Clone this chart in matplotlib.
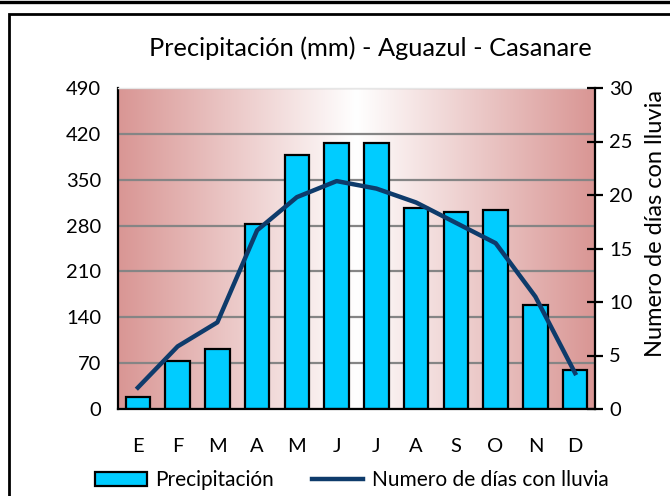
import numpy as np
import matplotlib
matplotlib.use("Agg")
import matplotlib.pyplot as plt
from matplotlib.colors import LinearSegmentedColormap
from matplotlib.patches import Rectangle
from matplotlib.lines import Line2D

plt.rcParams['font.family'] = ['Lato', 'DejaVu Sans']

# monthly data
meses = ['E', 'F', 'M', 'A', 'M', 'J', 'J', 'A', 'S', 'O', 'N', 'D']
precipitacion = [18, 74, 92, 283, 388, 406, 406, 307, 300, 304, 159, 60]
dias_lluvia = [2.0, 5.85, 8.1, 16.7, 19.8, 21.3, 20.6, 19.3, 17.4, 15.5, 10.5, 3.35]
ticks_mm = [0, 70, 140, 210, 280, 350, 420, 490]
ticks_dias = [0, 5, 10, 15, 20, 25, 30]

W, H = 670, 496
fig = plt.figure(figsize=(W / 100, H / 100), dpi=100)

# plot area in pixels: left 118, right 595, top 88, bottom 409
ax = fig.add_axes([118 / W, (H - 409) / H, (595 - 118) / W, (409 - 88) / H])
x = np.arange(len(meses))
ax.set_xlim(-0.5, len(meses) - 0.5)
ax.set_ylim(0, 490)

# horizontal gradient: rose at both edges, white in the middle
rosa = '#d99694'
cmap = LinearSegmentedColormap.from_list('fondo', [rosa, 'white', rosa])
grad = np.linspace(0, 1, 256).reshape(1, -1)
ax.imshow(grad, cmap=cmap, extent=[-0.5, len(meses) - 0.5, 0, 490],
          aspect='auto', zorder=-2, interpolation='bicubic')

ax.bar(x, precipitacion, width=0.62, color='#00ccff', edgecolor='black',
       linewidth=1.6, zorder=2, label='Precipitación')

ax.set_yticks(ticks_mm)
ax.yaxis.grid(True, color='#858585', linewidth=1.6)
ax.set_axisbelow(True)
ax.set_xticks(x)
ax.set_xticklabels(meses)
ax.tick_params(axis='x', length=0, pad=21, labelsize=14.5)
ax.tick_params(axis='y', length=0, pad=12, labelsize=14.5)

for s in ['left', 'bottom']:
    ax.spines[s].set_linewidth(1.6)
    ax.spines[s].set_color('black')
ax.spines['right'].set_visible(False)
ax.spines['top'].set_color('#e6e6e6')
ax.spines['top'].set_linewidth(1)

# rainy days on secondary axis
ax2 = ax.twinx()
ax2.plot(x, dias_lluvia, color='#0e3b6b', linewidth=3.2, zorder=3,
         label='Numero de días con lluvia')
ax2.set_ylim(0, 30)
ax2.set_yticks(ticks_dias)
ax2.tick_params(axis='y', direction='inout', length=12, width=1.6,
                pad=4, labelsize=14.5)
ax2.spines['right'].set_linewidth(1.6)
ax2.spines['right'].set_color('black')
for s in ['left', 'top', 'bottom']:
    ax2.spines[s].set_visible(False)
ax2.set_ylabel('Numero de días con lluvia', fontsize=17)
ax2.yaxis.label.set_verticalalignment('center')
ax2.yaxis.set_label_coords((655 - 118) / 477, (409 - 223) / 321)

fig.text(370 / W, 1 - 48 / H, 'Precipitación (mm) - Aguazul - Casanare',
         ha='center', va='center', fontsize=18.3)

h1, l1 = ax.get_legend_handles_labels()
h2, l2 = ax2.get_legend_handles_labels()
fig.legend(h1 + h2, l1 + l2, loc='center', bbox_to_anchor=(352 / W, 1 - 480 / H),
           ncol=2, frameon=False, fontsize=15, handlelength=2.45,
           handletextpad=0.43, columnspacing=1.8, handleheight=0.65)

# outer frame
fig.add_artist(Line2D([0, 1], [1 - 1.6 / H] * 2, color='black', linewidth=2.4,
                      transform=fig.transFigure))
fig.add_artist(Rectangle((8.7 / W, -0.1), 1.2, 1.1 - 14 / H, fill=False,
                         edgecolor='black', linewidth=2, transform=fig.transFigure))

fig.savefig('out.png', dpi=100)
